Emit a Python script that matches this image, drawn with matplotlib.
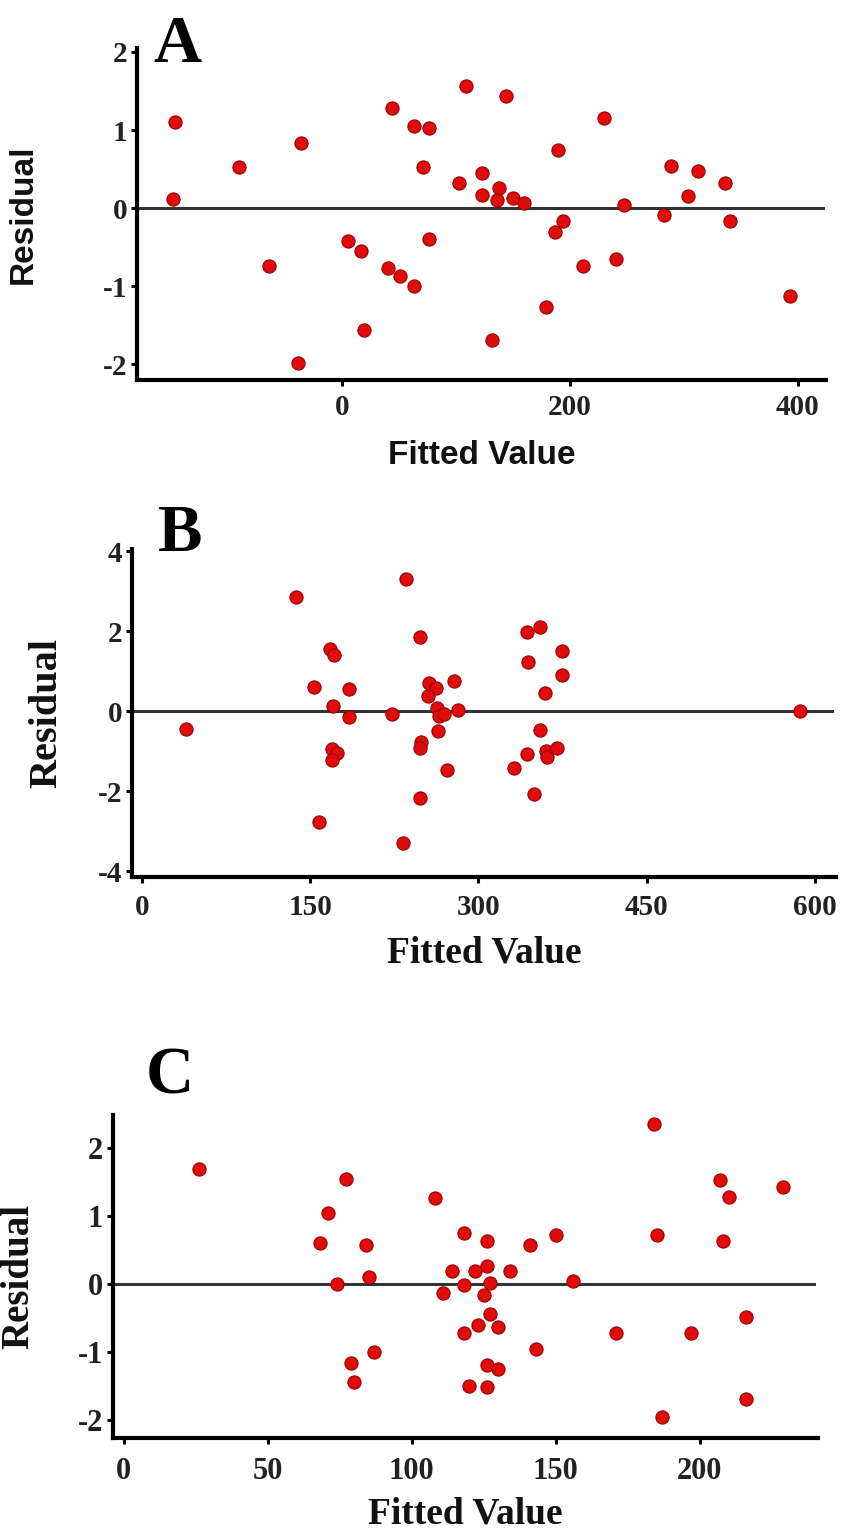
import matplotlib.pyplot as plt
import numpy as np

plt.rcParams['axes.unicode_minus'] = False

# panel A: fitted value vs residual
a_fitted = [-147, -148, -90, -36, -64, -39, 5, 17, 19, 40, 51, 63, 76, 44, 63, 76, 71,
            103, 109, 144, 123, 123, 138, 136, 150, 160, 190, 194, 187, 212, 241, 179,
            132, 230, 248, 289, 313, 304, 283, 336, 341, 393]
a_resid = [1.10, 0.12, 0.53, 0.84, -0.74, -1.98, -0.42, -0.55, -1.56, -0.76, -0.87, -1.00,
           -0.40, 1.28, 1.05, 1.02, 0.53, 0.32, 1.56, 1.43, 0.45, 0.17, 0.26, 0.11, 0.13,
           0.07, 0.74, -0.16, -0.30, -0.74, -0.65, -1.27, -1.69, 1.15, 0.04, 0.54, 0.47,
           0.15, -0.09, 0.32, -0.16, -1.12]

# panel B
b_fitted = [235, 137, 248, 168, 171, 153, 185, 170, 185, 223, 39, 169, 174, 169, 249, 248,
            248, 158, 233, 256, 262, 255, 263, 265, 269, 264, 272, 278, 282, 343, 355, 375,
            344, 375, 359, 355, 343, 360, 370, 361, 332, 350, 587]
b_resid = [3.30, 2.85, 1.85, 1.56, 1.41, 0.60, 0.56, 0.12, -0.14, -0.08, -0.44, -0.95,
           -1.04, -1.23, -0.77, -0.93, -2.17, -2.77, -3.31, 0.70, 0.58, 0.37, 0.08, -0.12,
           -0.08, -0.50, -1.47, 0.76, 0.02, 1.97, 2.10, 1.51, 1.22, 0.91, 0.46, -0.48,
           -1.08, -0.99, -0.93, -1.16, -1.42, -2.07, 0.00]

# panel C
c_fitted = [26, 77, 71, 68, 84, 85, 74, 87, 79, 80, 108, 118, 126, 141, 150, 114, 122, 126,
            134, 118, 111, 127, 125, 127, 123, 130, 118, 143, 126, 130, 120, 126, 156, 171,
            184, 185, 197, 207, 210, 208, 229, 216, 216, 187]
c_resid = [1.69, 1.55, 1.05, 0.60, 0.58, 0.10, 0.00, -1.00, -1.17, -1.44, 1.26, 0.75, 0.63,
           0.57, 0.72, 0.19, 0.19, 0.26, 0.19, -0.02, -0.13, 0.01, -0.17, -0.45, -0.61,
           -0.64, -0.72, -0.96, -1.20, -1.26, -1.50, -1.52, 0.04, -0.72, 2.35, 0.72, -0.72,
           1.53, 1.28, 0.63, 1.43, -0.49, -1.70, -1.96]

W, H = 842, 1533
fig = plt.figure(figsize=(W / 100, H / 100), dpi=100)

serif = 'Liberation Serif'
sans = 'Liberation Sans'


def box(l, t, r, b):
    # pixel box -> figure fraction
    return [l / W, 1 - b / H, (r - l) / W, (b - t) / H]


def style(ax, xlim, ylim, xticks, yticks, fs=21, xpad=8):
    ax.set_xlim(*xlim)
    ax.set_ylim(*ylim)
    ax.set_xticks(xticks)
    ax.set_yticks(yticks)
    for s in ['top', 'right']:
        ax.spines[s].set_visible(False)
    for s in ['left', 'bottom']:
        ax.spines[s].set_linewidth(3)
        ax.spines[s].set_color('black')
    ax.tick_params(direction='out', length=4, width=2.2, pad=3)
    ax.tick_params(axis='x', pad=xpad)
    for lab in ax.get_xticklabels() + ax.get_yticklabels():
        lab.set_fontfamily(serif)
        lab.set_fontweight('bold')
        lab.set_fontsize(fs)
        lab.set_color('#222222')
    ax.axhline(0, color='#333333', lw=2.2, xmax=0.995, zorder=1)


def dots(ax, x, y):
    ax.plot(x, y, 'o', ms=9.5, mfc='#e00b0b', mec='#9a0000', mew=0.8, zorder=3)


# A
axA = fig.add_axes(box(137, 48, 826, 380))
style(axA, (-180, 425), (-2.2, 2.05), [0, 200, 400], [-2, -1, 0, 1, 2], fs=21, xpad=6)
dots(axA, a_fitted, a_resid)
axA.set_xlabel('Fitted Value', fontfamily=sans, fontweight='bold', fontsize=24,
               color='#111111', labelpad=14)
axA.set_ylabel('Residual', fontfamily=sans, fontweight='bold', fontsize=24,
               color='#111111')
axA.yaxis.set_label_coords(-0.142, 0.5)
fig.text(153 / W, 1 - 62 / H, 'A', fontfamily=serif, fontweight='bold', fontsize=48,
         va='baseline', ha='left')

# B
axB = fig.add_axes(box(132, 549, 836, 877))
style(axB, (-9, 619), (-4.15, 4.05), [0, 150, 300, 450, 600], [-4, -2, 0, 2, 4],
      fs=21, xpad=8)
dots(axB, b_fitted, b_resid)
axB.set_xlabel('Fitted Value', fontfamily=serif, fontweight='bold', fontsize=27,
               color='#111111', labelpad=11)
axB.set_ylabel('Residual', fontfamily=serif, fontweight='bold', fontsize=29,
               color='#111111')
axB.yaxis.set_label_coords(-0.095, 0.5)
fig.text(158 / W, 1 - 551 / H, 'B', fontfamily=serif, fontweight='bold', fontsize=48,
         va='baseline', ha='left')

# C
axC = fig.add_axes(box(113, 1115, 818, 1438))
style(axC, (-3.7, 241), (-2.27, 2.49), [0, 50, 100, 150, 200], [-2, -1, 0, 1, 2],
      fs=22, xpad=10)
dots(axC, c_fitted, c_resid)
axC.set_xlabel('Fitted Value', fontfamily=serif, fontweight='bold', fontsize=27,
               color='#111111', labelpad=7)
axC.set_ylabel('Residual', fontfamily=serif, fontweight='bold', fontsize=28,
               color='#111111')
axC.yaxis.set_label_coords(-0.107, 0.5)
fig.text(146 / W, 1 - 1093 / H, 'C', fontfamily=serif, fontweight='bold', fontsize=48,
         va='baseline', ha='left')

fig.savefig('out.png', dpi=100, facecolor='white')
